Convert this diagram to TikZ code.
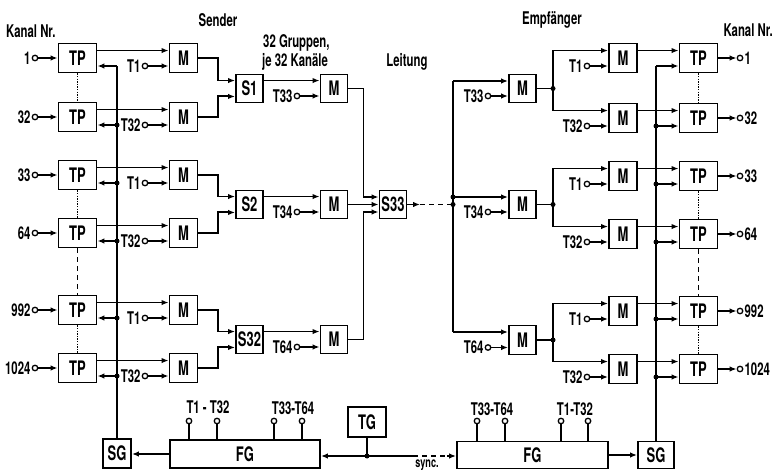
\documentclass[tikz,border=0pt]{standalone}
\usepackage{fontspec}
\setmainfont{TeX Gyre Heros}[FakeStretch=0.65]
\usetikzlibrary{arrows.meta,calc}
\begin{document}
\begin{tikzpicture}[x=1pt,y=-1pt,
  ln/.style={line width=1.9pt},
  arr/.style={line width=1.9pt,-{Latex[length=7pt,width=5.5pt]}},
  box/.style={draw,line width=1.9pt,inner sep=0pt,font=\fontsize{20}{23}\selectfont\bfseries},
  tp/.style={box,minimum width=38pt,minimum height=29pt},
  mb/.style={box,minimum width=28pt,minimum height=29pt},
  sb/.style={box,minimum width=27pt,minimum height=28pt},
  pin/.style={circle,draw,line width=1.3pt,inner sep=0pt,minimum size=5.5pt,fill=white},
  dot/.style={circle,fill,inner sep=0pt,minimum size=5pt},
  lbl/.style={inner sep=1pt,font=\fontsize{17.5}{20}\selectfont\bfseries},
  hdr/.style={inner sep=0pt,font=\fontsize{17.5}{20}\selectfont\bfseries},
  dotl/.style={line width=1.5pt,dash pattern=on 1.3pt off 1.3pt},
  dashl/.style={line width=1.7pt,dash pattern=on 5pt off 4pt}]
\useasboundingbox (0,0) rectangle (774,470);

% headers
\node[hdr,anchor=west] (hkl) at (6,31) {Kanal Nr.};
\node[hdr] (hsend) at (218,20) {Sender};
\node[hdr,anchor=west] (hgr) at (263,43) {32 Gruppen,};
\node[hdr,anchor=west] (hje) at (262,62) {je 32 Kanäle};
\node[hdr] (hlei) at (407,62) {Leitung};
\node[hdr] (hemp) at (552,20) {Empfänger};
\node[hdr,anchor=east] (hkr) at (773,30) {Kanal Nr.};

% ---------- sender rows ----------
\foreach \ty/\cn/\tl/\i in {43/1/T1/1,102/32/T32/2,160/33/T1/3,218/64/T32/4,295/992/T1/5,353/1024/T32/6}{
  \node[tp] (LTP\i) at (77.5,\ty+15) {TP};
  \node[mb] (LM\i) at (183.5,\ty+15) {M};
  \node[pin] (LI\i) at (35,\ty+15) {};
  \node[lbl,anchor=east] (LIl\i) at (LI\i.west) {\cn};
  \draw[arr] (LI\i.east) -- (LTP\i.west);
  \draw[arr] ($(LTP\i.north east)+(0,8)$) -- ($(LM\i.north west)+(0,8)$);
  \node[pin] (LT\i) at (145,\ty+23) {};
  \node[lbl,anchor=east] (LTl\i) at (LT\i.west) {\tl};
  \draw[arr] (LT\i.east) -- (LT\i -| LM\i.west);
  \coordinate (LJ\i) at (117,\ty+23);
  \draw[arr] (LJ\i) -- (LJ\i -| LTP\i.east);
}
\foreach \i in {2,...,6} \node[dot] at (LJ\i) {};
\draw[dotl] (LTP1.south) -- (LTP2.north);
\draw[dotl] (LTP3.south) -- (LTP4.north);
\draw[dotl] (LTP5.south) -- (LTP6.north);
\draw[dashl] (LTP4.south) -- (LTP5.north);

% S multiplexers and second modulators
\node[sb] (S1) at (249.5,88.5) {S1};
\node[sb] (S2) at (249.5,204.5) {S2};
\node[sb] (S32) at (249.5,339.5) {S32};
\node[sb] (MM1) at (334,88.5) {M};
\node[sb] (MM2) at (334,204.5) {M};
\node[sb] (MM3) at (334,339.5) {M};
\foreach \s/\a/\b/\k/\tn/\cy in {S1/1/2/1/T33/88.5,S2/3/4/2/T34/204.5,S32/5/6/3/T64/339.5}{
  \draw[arr] (LM\a.east) -- ++(19.5,0) |- ($(\s.north west)+(0,7)$);
  \draw[arr] (LM\b.east) -- ++(19.5,0) |- ($(\s.south west)+(0,-7)$);
  \draw[arr] ($(\s.north east)+(0,7)$) -- ($(MM\k.north west)+(0,7)$);
  \node[pin] (TS\k) at (297,\cy+7.5) {};
  \node[lbl,anchor=east] (TSl\k) at (TS\k.west) {\tn};
  \draw[arr] (TS\k.east) -- (TS\k -| MM\k.west);
}

% S33
\node[sb] (S33) at (393,204.5) {S33};
\draw[arr] (MM1.east) -- ++(15,0) |- ($(S33.west)+(0,-7.5)$);
\draw[arr] (MM2.east) -- (S33.west);
\draw[arr] (MM3.east) -- ++(15,0) |- ($(S33.west)+(0,7.5)$);

% line (Leitung)
\coordinate (Ld) at (420,204.5);
\coordinate (Bj) at (453,204.5);
\coordinate (Bt) at (453,81);
\coordinate (Bm) at (453,197);
\coordinate (Bb) at (453,332);
\draw[arr] (S33.east) -- (Ld);
\draw[dashl] (Ld) -- (Bj);
\draw[ln] (Bt) -- (Bb);
\node[dot] at (Bj) {};
\node[dot] at (Bm) {};

% ---------- receiver first stage ----------
\node[sb] (RM1) at (522.5,88.5) {M};
\node[sb] (RM2) at (522.5,204.5) {M};
\node[sb,minimum height=29pt] (RM3) at (522.5,340) {M};
\draw[arr] (Bt) -- (Bt -| RM1.west);
\draw[arr] (Bm) -- (Bm -| RM2.west);
\draw[arr] (Bb) -- (Bb -| RM3.west);
\foreach \k/\tn/\cy in {1/T33/88.5,2/T34/204.5,3/T64/340}{
  \node[pin] (TR\k) at (488,\cy+7.5) {};
  \node[lbl,anchor=east] (TRl\k) at (TR\k.west) {\tn};
  \draw[arr] (TR\k.east) -- (TR\k -| RM\k.west);
  \coordinate (RB\k) at (553,\cy);
}

% ---------- receiver rows ----------
\foreach \ty/\cn/\tl/\i in {43/1/T1/1,103/32/T32/2,161/33/T1/3,219/64/T32/4,296/992/T1/5,354/1024/T32/6}{
  \node[mb] (RMa\i) at (623,\ty+15) {M};
  \node[tp] (RTP\i) at (698.5,\ty+15) {TP};
  \draw[arr] ($(RMa\i.north east)+(0,8)$) -- ($(RTP\i.north west)+(0,8)$);
  \node[pin] (RT\i) at (587,\ty+23) {};
  \node[lbl,anchor=east] (RTl\i) at (RT\i.west) {\tl};
  \draw[arr] (RT\i.east) -- (RT\i -| RMa\i.west);
  \coordinate (RJ\i) at (656,\ty+23);
  \draw[arr] (RJ\i) -- (RJ\i -| RTP\i.west);
  \node[pin] (RO\i) at (740,\ty+15) {};
  \node[lbl,anchor=west] (ROl\i) at (RO\i.east) {\cn};
  \draw[arr] (RTP\i.east) -- (RO\i.west);
}
\foreach \i in {2,...,6} \node[dot] at (RJ\i) {};
\draw[dotl] (RTP1.south) -- (RTP2.north);
\draw[dotl] (RTP3.south) -- (RTP4.north);
\draw[dotl] (RTP5.south) -- (RTP6.north);
\draw[dashl] (RTP4.south) -- (RTP5.north);

\foreach \k/\a/\b in {1/1/2,2/3/4,3/5/6}{
  \draw[ln] (RM\k.east) -- (RB\k);
  \draw[arr] (RB\k) |- ($(RMa\a.north west)+(0,8)$);
  \draw[arr] (RB\k) |- ($(RMa\b.north west)+(0,8)$);
  \node[dot] at (RB\k) {};
}

% ---------- bottom: SG, FG, TG ----------
\node[box,minimum width=28pt,minimum height=29pt] (SGL) at (117,453.5) {SG};
\node[box,minimum width=36pt,minimum height=27pt] (SGR) at (656,455) {SG};
\draw[ln] (SGL.north) -- (LJ1);
\draw[ln] (SGR.north) -- (RJ1);

\node[box,minimum width=150pt,minimum height=28pt] (FGL) at (245,454) {FG};
\node[box,minimum width=151pt,minimum height=27pt] (FGR) at (532.5,455) {FG};
\draw[arr] (FGL.west) -- (FGL.west -| SGL.east);
\draw[arr] (FGR.east) -- (FGR.east -| SGR.west);

\node[box,minimum width=38pt,minimum height=30pt] (TG) at (367,422) {TG};
\coordinate (SY) at (367,456);
\coordinate (D1) at (413,456);
\coordinate (D2) at (447,456);
\draw[ln] (TG.south) -- (SY);
\draw[arr] (SY) -- (SY -| FGL.east);
\draw[ln] (SY) -- (D1);
\draw[dashl] (D1) -- (D2);
\draw[arr] (D2) -- (D2 -| FGR.west);
\node[dot] at (SY) {};
\node[lbl,font=\fontsize{14}{16}\selectfont\bfseries] (sync) at (427,465) {sync.};

\foreach \x/\n in {189/a,217/b,274/c,302/d}{
  \node[pin] (FP\n) at (\x,421) {};
  \draw[ln] (FP\n.south) -- (FP\n.south |- FGL.north);
}
\foreach \x/\n in {477/a,505/b,561/c,588/d}{
  \node[pin] (FQ\n) at (\x,421) {};
  \draw[ln] (FQ\n.south) -- (FQ\n.south |- FGR.north);
}
\node[lbl] (fl1) at (208,407) {T1 - T32};
\node[lbl] (fl2) at (293,408) {T33-T64};
\node[lbl] (fl3) at (492,409) {T33-T64};
\node[lbl] (fl4) at (575,409) {T1-T32};
\end{tikzpicture}
\end{document}
